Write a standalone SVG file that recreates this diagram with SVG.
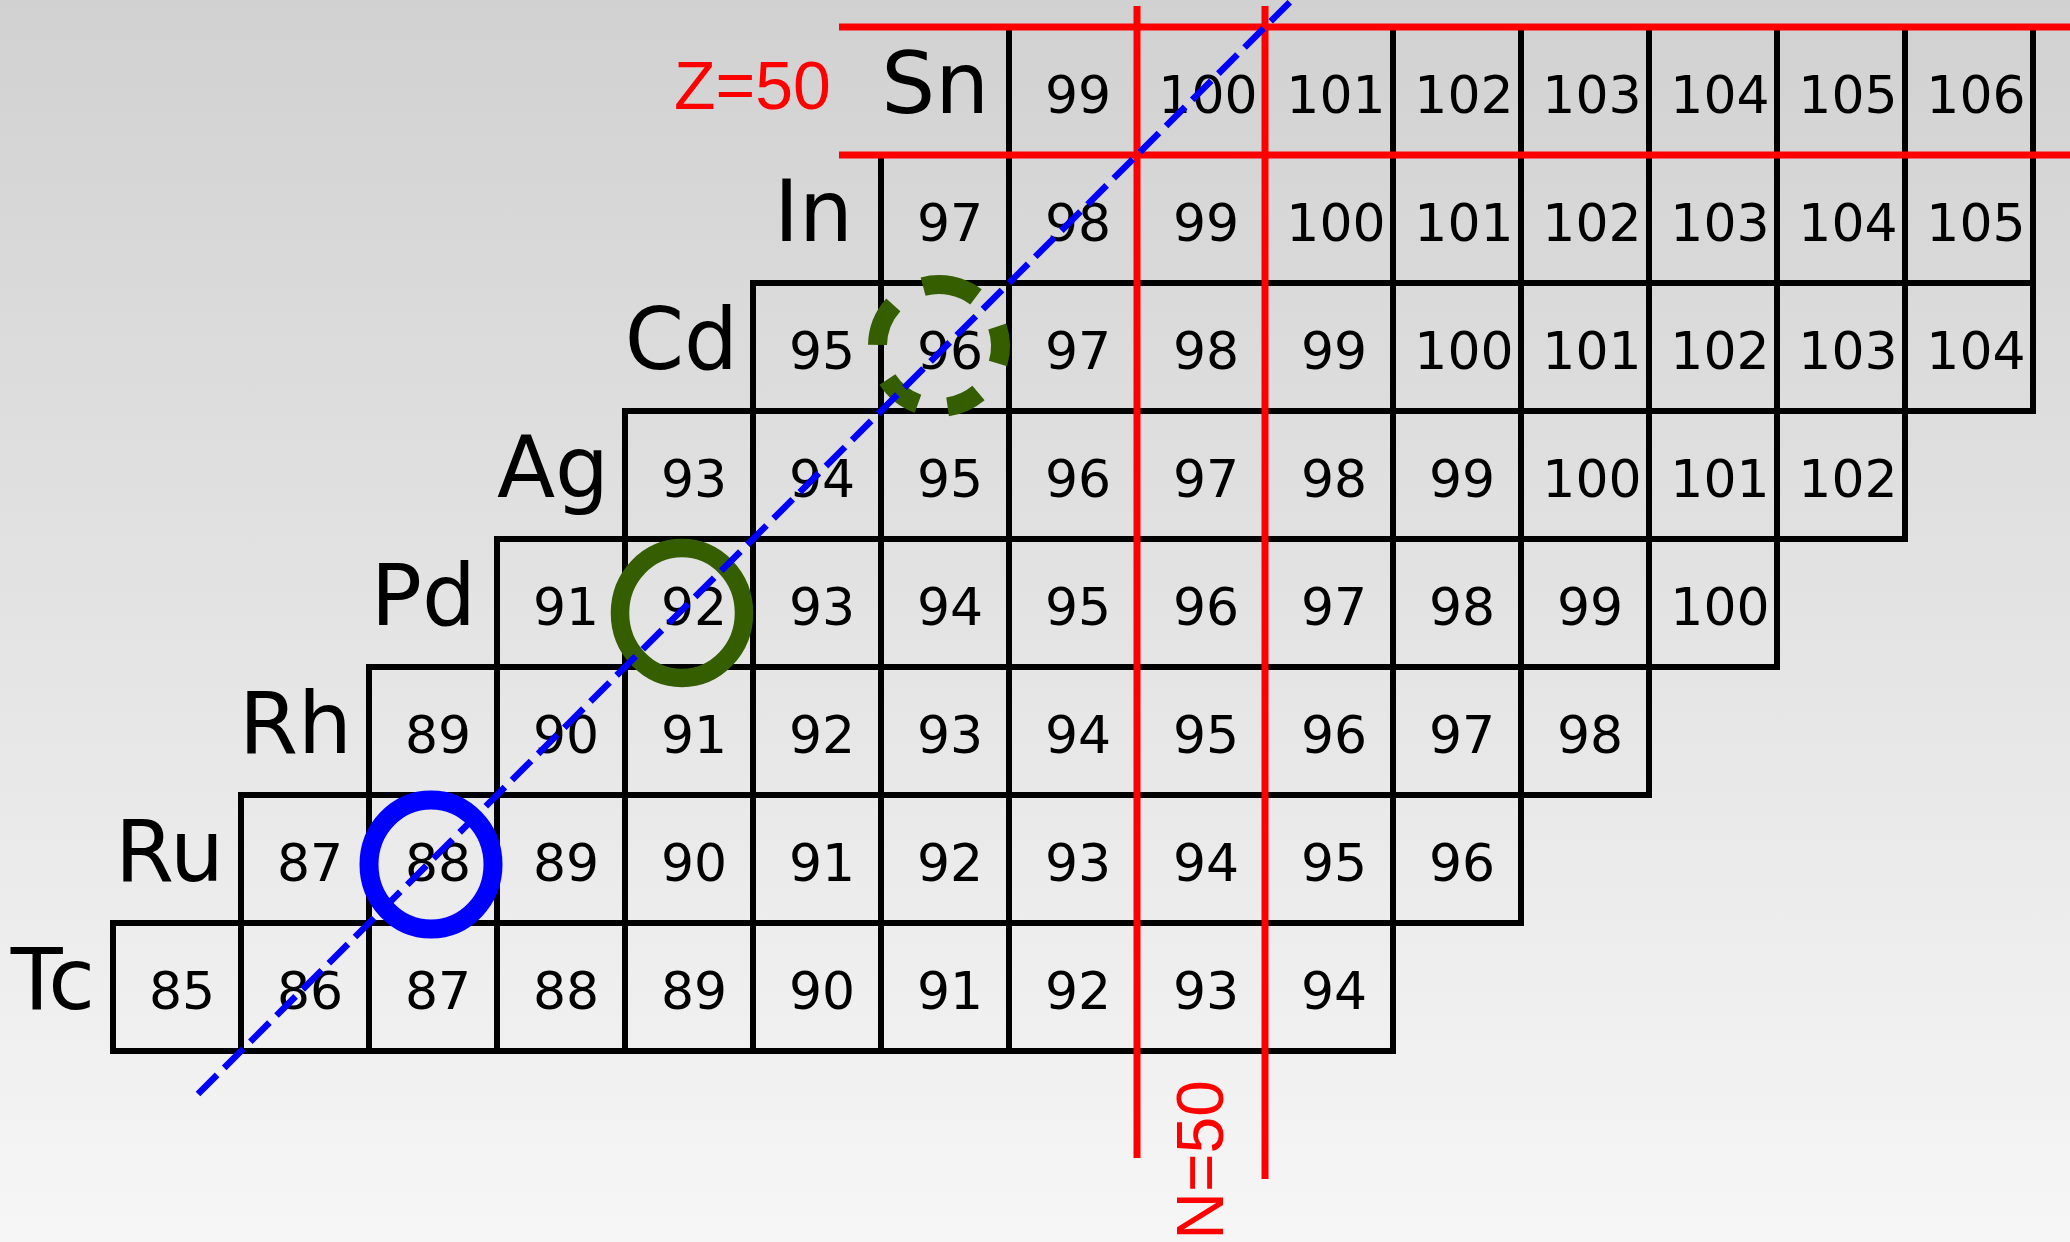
<svg xmlns="http://www.w3.org/2000/svg" width="2070" height="1242" viewBox="0 0 2070 1242">
<defs>
<linearGradient id="bg" x1="0" y1="0" x2="0" y2="1">
<stop offset="0" stop-color="#d1d1d1"/>
<stop offset="1" stop-color="#f6f6f6"/>
</linearGradient>
<style>
.c{fill:none;stroke:#000;stroke-width:6}
.n{font-family:"DejaVu Sans",sans-serif;font-size:52px;text-anchor:middle;fill:#000}
.el{font-family:"DejaVu Sans",sans-serif;font-size:85px;text-anchor:end;fill:#000}
.red{stroke:#ff0000;stroke-width:7;fill:none}
.rt{font-family:"Liberation Sans",Arial,sans-serif;fill:#ff0000}
</style>
</defs>
<rect x="0" y="0" width="2070" height="1242" fill="url(#bg)"/>

<g id="row-Sn">
<text class="el" x="989" y="113">Sn</text>
<g id="Sn99"><rect class="c" x="1009" y="27" width="128" height="128"/><text class="n" x="1078" y="113">99</text></g>
<g id="Sn100"><rect class="c" x="1137" y="27" width="128" height="128"/><text class="n" x="1208" y="113">100</text></g>
<g id="Sn101"><rect class="c" x="1265" y="27" width="128" height="128"/><text class="n" x="1336" y="113">101</text></g>
<g id="Sn102"><rect class="c" x="1393" y="27" width="128" height="128"/><text class="n" x="1464" y="113">102</text></g>
<g id="Sn103"><rect class="c" x="1521" y="27" width="128" height="128"/><text class="n" x="1592" y="113">103</text></g>
<g id="Sn104"><rect class="c" x="1649" y="27" width="128" height="128"/><text class="n" x="1720" y="113">104</text></g>
<g id="Sn105"><rect class="c" x="1777" y="27" width="128" height="128"/><text class="n" x="1848" y="113">105</text></g>
<g id="Sn106"><rect class="c" x="1905" y="27" width="128" height="128"/><text class="n" x="1976" y="113">106</text></g>
</g>

<g id="row-In">
<text class="el" x="853" y="241">In</text>
<g id="In97"><rect class="c" x="881" y="155" width="128" height="128"/><text class="n" x="950" y="241">97</text></g>
<g id="In98"><rect class="c" x="1009" y="155" width="128" height="128"/><text class="n" x="1078" y="241">98</text></g>
<g id="In99"><rect class="c" x="1137" y="155" width="128" height="128"/><text class="n" x="1206" y="241">99</text></g>
<g id="In100"><rect class="c" x="1265" y="155" width="128" height="128"/><text class="n" x="1336" y="241">100</text></g>
<g id="In101"><rect class="c" x="1393" y="155" width="128" height="128"/><text class="n" x="1464" y="241">101</text></g>
<g id="In102"><rect class="c" x="1521" y="155" width="128" height="128"/><text class="n" x="1592" y="241">102</text></g>
<g id="In103"><rect class="c" x="1649" y="155" width="128" height="128"/><text class="n" x="1720" y="241">103</text></g>
<g id="In104"><rect class="c" x="1777" y="155" width="128" height="128"/><text class="n" x="1848" y="241">104</text></g>
<g id="In105"><rect class="c" x="1905" y="155" width="128" height="128"/><text class="n" x="1976" y="241">105</text></g>
</g>

<g id="row-Cd">
<text class="el" x="738" y="369">Cd</text>
<g id="Cd95"><rect class="c" x="753" y="283" width="128" height="128"/><text class="n" x="822" y="369">95</text></g>
<g id="Cd96"><rect class="c" x="881" y="283" width="128" height="128"/><text class="n" x="950" y="369">96</text></g>
<g id="Cd97"><rect class="c" x="1009" y="283" width="128" height="128"/><text class="n" x="1078" y="369">97</text></g>
<g id="Cd98"><rect class="c" x="1137" y="283" width="128" height="128"/><text class="n" x="1206" y="369">98</text></g>
<g id="Cd99"><rect class="c" x="1265" y="283" width="128" height="128"/><text class="n" x="1334" y="369">99</text></g>
<g id="Cd100"><rect class="c" x="1393" y="283" width="128" height="128"/><text class="n" x="1464" y="369">100</text></g>
<g id="Cd101"><rect class="c" x="1521" y="283" width="128" height="128"/><text class="n" x="1592" y="369">101</text></g>
<g id="Cd102"><rect class="c" x="1649" y="283" width="128" height="128"/><text class="n" x="1720" y="369">102</text></g>
<g id="Cd103"><rect class="c" x="1777" y="283" width="128" height="128"/><text class="n" x="1848" y="369">103</text></g>
<g id="Cd104"><rect class="c" x="1905" y="283" width="128" height="128"/><text class="n" x="1976" y="369">104</text></g>
</g>

<g id="row-Ag">
<text class="el" x="609" y="497">Ag</text>
<g id="Ag93"><rect class="c" x="625" y="411" width="128" height="128"/><text class="n" x="694" y="497">93</text></g>
<g id="Ag94"><rect class="c" x="753" y="411" width="128" height="128"/><text class="n" x="822" y="497">94</text></g>
<g id="Ag95"><rect class="c" x="881" y="411" width="128" height="128"/><text class="n" x="950" y="497">95</text></g>
<g id="Ag96"><rect class="c" x="1009" y="411" width="128" height="128"/><text class="n" x="1078" y="497">96</text></g>
<g id="Ag97"><rect class="c" x="1137" y="411" width="128" height="128"/><text class="n" x="1206" y="497">97</text></g>
<g id="Ag98"><rect class="c" x="1265" y="411" width="128" height="128"/><text class="n" x="1334" y="497">98</text></g>
<g id="Ag99"><rect class="c" x="1393" y="411" width="128" height="128"/><text class="n" x="1462" y="497">99</text></g>
<g id="Ag100"><rect class="c" x="1521" y="411" width="128" height="128"/><text class="n" x="1592" y="497">100</text></g>
<g id="Ag101"><rect class="c" x="1649" y="411" width="128" height="128"/><text class="n" x="1720" y="497">101</text></g>
<g id="Ag102"><rect class="c" x="1777" y="411" width="128" height="128"/><text class="n" x="1848" y="497">102</text></g>
</g>

<g id="row-Pd">
<text class="el" x="476" y="625">Pd</text>
<g id="Pd91"><rect class="c" x="497" y="539" width="128" height="128"/><text class="n" x="566" y="625">91</text></g>
<g id="Pd92"><rect class="c" x="625" y="539" width="128" height="128"/><text class="n" x="694" y="625">92</text></g>
<g id="Pd93"><rect class="c" x="753" y="539" width="128" height="128"/><text class="n" x="822" y="625">93</text></g>
<g id="Pd94"><rect class="c" x="881" y="539" width="128" height="128"/><text class="n" x="950" y="625">94</text></g>
<g id="Pd95"><rect class="c" x="1009" y="539" width="128" height="128"/><text class="n" x="1078" y="625">95</text></g>
<g id="Pd96"><rect class="c" x="1137" y="539" width="128" height="128"/><text class="n" x="1206" y="625">96</text></g>
<g id="Pd97"><rect class="c" x="1265" y="539" width="128" height="128"/><text class="n" x="1334" y="625">97</text></g>
<g id="Pd98"><rect class="c" x="1393" y="539" width="128" height="128"/><text class="n" x="1462" y="625">98</text></g>
<g id="Pd99"><rect class="c" x="1521" y="539" width="128" height="128"/><text class="n" x="1590" y="625">99</text></g>
<g id="Pd100"><rect class="c" x="1649" y="539" width="128" height="128"/><text class="n" x="1720" y="625">100</text></g>
</g>

<g id="row-Rh">
<text class="el" x="352" y="753">Rh</text>
<g id="Rh89"><rect class="c" x="369" y="667" width="128" height="128"/><text class="n" x="438" y="753">89</text></g>
<g id="Rh90"><rect class="c" x="497" y="667" width="128" height="128"/><text class="n" x="566" y="753">90</text></g>
<g id="Rh91"><rect class="c" x="625" y="667" width="128" height="128"/><text class="n" x="694" y="753">91</text></g>
<g id="Rh92"><rect class="c" x="753" y="667" width="128" height="128"/><text class="n" x="822" y="753">92</text></g>
<g id="Rh93"><rect class="c" x="881" y="667" width="128" height="128"/><text class="n" x="950" y="753">93</text></g>
<g id="Rh94"><rect class="c" x="1009" y="667" width="128" height="128"/><text class="n" x="1078" y="753">94</text></g>
<g id="Rh95"><rect class="c" x="1137" y="667" width="128" height="128"/><text class="n" x="1206" y="753">95</text></g>
<g id="Rh96"><rect class="c" x="1265" y="667" width="128" height="128"/><text class="n" x="1334" y="753">96</text></g>
<g id="Rh97"><rect class="c" x="1393" y="667" width="128" height="128"/><text class="n" x="1462" y="753">97</text></g>
<g id="Rh98"><rect class="c" x="1521" y="667" width="128" height="128"/><text class="n" x="1590" y="753">98</text></g>
</g>

<g id="row-Ru">
<text class="el" x="224" y="881">Ru</text>
<g id="Ru87"><rect class="c" x="241" y="795" width="128" height="128"/><text class="n" x="310" y="881">87</text></g>
<g id="Ru88"><rect class="c" x="369" y="795" width="128" height="128"/><text class="n" x="438" y="881">88</text></g>
<g id="Ru89"><rect class="c" x="497" y="795" width="128" height="128"/><text class="n" x="566" y="881">89</text></g>
<g id="Ru90"><rect class="c" x="625" y="795" width="128" height="128"/><text class="n" x="694" y="881">90</text></g>
<g id="Ru91"><rect class="c" x="753" y="795" width="128" height="128"/><text class="n" x="822" y="881">91</text></g>
<g id="Ru92"><rect class="c" x="881" y="795" width="128" height="128"/><text class="n" x="950" y="881">92</text></g>
<g id="Ru93"><rect class="c" x="1009" y="795" width="128" height="128"/><text class="n" x="1078" y="881">93</text></g>
<g id="Ru94"><rect class="c" x="1137" y="795" width="128" height="128"/><text class="n" x="1206" y="881">94</text></g>
<g id="Ru95"><rect class="c" x="1265" y="795" width="128" height="128"/><text class="n" x="1334" y="881">95</text></g>
<g id="Ru96"><rect class="c" x="1393" y="795" width="128" height="128"/><text class="n" x="1462" y="881">96</text></g>
</g>

<g id="row-Tc">
<text class="el" x="95" y="1009">Tc</text>
<g id="Tc85"><rect class="c" x="113" y="923" width="128" height="128"/><text class="n" x="182" y="1009">85</text></g>
<g id="Tc86"><rect class="c" x="241" y="923" width="128" height="128"/><text class="n" x="310" y="1009">86</text></g>
<g id="Tc87"><rect class="c" x="369" y="923" width="128" height="128"/><text class="n" x="438" y="1009">87</text></g>
<g id="Tc88"><rect class="c" x="497" y="923" width="128" height="128"/><text class="n" x="566" y="1009">88</text></g>
<g id="Tc89"><rect class="c" x="625" y="923" width="128" height="128"/><text class="n" x="694" y="1009">89</text></g>
<g id="Tc90"><rect class="c" x="753" y="923" width="128" height="128"/><text class="n" x="822" y="1009">90</text></g>
<g id="Tc91"><rect class="c" x="881" y="923" width="128" height="128"/><text class="n" x="950" y="1009">91</text></g>
<g id="Tc92"><rect class="c" x="1009" y="923" width="128" height="128"/><text class="n" x="1078" y="1009">92</text></g>
<g id="Tc93"><rect class="c" x="1137" y="923" width="128" height="128"/><text class="n" x="1206" y="1009">93</text></g>
<g id="Tc94"><rect class="c" x="1265" y="923" width="128" height="128"/><text class="n" x="1334" y="1009">94</text></g>
</g>

<g id="magic-lines">
<line class="red" x1="839" y1="27" x2="2070" y2="27"/>
<line class="red" x1="839" y1="155" x2="2070" y2="155"/>
<line class="red" x1="1137" y1="6" x2="1137" y2="1158"/>
<line class="red" x1="1265" y1="6" x2="1265" y2="1179"/>
<text class="rt" x="674" y="109" font-size="68">Z=50</text>
<text class="rt" x="1223" y="1080" font-size="66" text-anchor="end" transform="rotate(-90 1223 1080)">N=50</text>
</g>

<g id="circles">
<ellipse cx="431" cy="864.5" rx="62" ry="64.5" fill="none" stroke="#0000ff" stroke-width="19"/>
<ellipse cx="682" cy="613" rx="62" ry="65" fill="none" stroke="#345e00" stroke-width="18.5"/>
<path d="M923.1,286.6 A61.5,61.5 0 0 1 976.0,296.9 M997.3,326.5 A61.5,61.5 0 0 1 998.0,363.5 M978.5,393.1 A61.5,61.5 0 0 1 947.6,406.9 M918.0,403.8 A61.5,61.5 0 0 1 887.4,379.5 M877.5,344.9 A61.5,61.5 0 0 1 893.3,304.9" fill="none" stroke="#345e00" stroke-width="19"/>
</g>

<g id="connectors">
<line x1="198" y1="1094" x2="1300" y2="-8" stroke="#0000ff" stroke-width="6.5" stroke-dasharray="27 10"/>
</g>
</svg>
